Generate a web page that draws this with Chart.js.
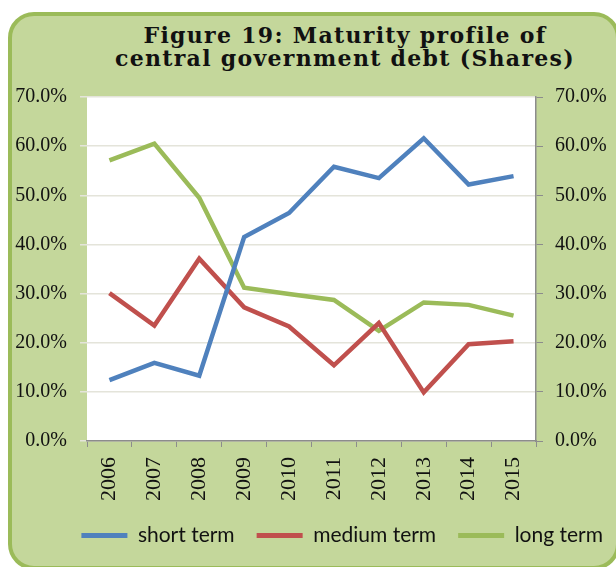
<!DOCTYPE html>
<html>
<head>
<meta charset="utf-8">
<script src="https://cdn.jsdelivr.net/npm/chart.js@4"></script>
<style>
  html, body { margin: 0; padding: 0; background: #fff; }
  body { width: 616px; height: 567px; position: relative; overflow: hidden; }
  .frame {
    position: absolute; left: 8px; top: 12px; width: 612px; height: 558px;
    box-sizing: border-box; border: 4px solid #9bbb59; border-radius: 26px;
    background: #c4d79b;
  }
  .title {
    position: absolute; left: 80px; top: 24px; width: 530px;
    font: bold 22px/23px 'DejaVu Serif', serif; color: #111; letter-spacing: 1.3px;
    text-align: center; white-space: nowrap;
  }
  canvas { position: absolute; left: 0; top: 0; }
</style>
</head>
<body>
<div class="frame"></div>
<div class="title" id="title"></div>
<canvas id="chart" width="616" height="567"></canvas>
<script>
// ── Data ──────────────────────────────────────────────────────────────────
const titleLines = ['Figure 19: Maturity profile of', 'central government debt (Shares)'];
const years = ['2006', '2007', '2008', '2009', '2010', '2011', '2012', '2013', '2014', '2015'];
const shortTerm = [12.4, 15.9, 13.3, 41.5, 46.4, 55.8, 53.5, 61.6, 52.2, 53.9];
const mediumTerm = [30.1, 23.5, 37.1, 27.2, 23.3, 15.4, 24.0, 9.9, 19.7, 20.3];
const longTerm = [57.1, 60.5, 49.5, 31.2, 29.9, 28.7, 22.4, 28.2, 27.7, 25.5];
const seriesNames = ['short term', 'medium term', 'long term'];
const yTicks = [0, 10, 20, 30, 40, 50, 60, 70];

document.getElementById('title').innerHTML = titleLines.join('<br>');

// white plot background
const plotBg = {
  id: 'plotBg',
  beforeDraw(chart) {
    const a = chart.chartArea, ctx = chart.ctx;
    ctx.save();
    ctx.fillStyle = '#ffffff';
    ctx.fillRect(a.left, a.top, a.right - a.left, a.bottom - a.top);
    ctx.restore();
  }
};

const tickFont = { family: "'Liberation Serif', serif", size: 20 };
const axisGray = '#8c8c8c';

function yAxis(pos) {
  const left = pos === 'left';
  return {
    position: pos,
    min: 0, max: 70,
    afterBuildTicks: s => { s.ticks = yTicks.map(v => ({ value: v })); },
    afterFit: s => { s.width = left ? 87 : 89; },
    ticks: { font: tickFont, color: '#111', padding: left ? 13 : 12, callback: v => v.toFixed(1) + '%' },
    grid: left
      ? { color: '#e4e4da', lineWidth: 1.5, tickLength: 7, drawTicks: true }
      : { drawOnChartArea: false, color: axisGray, tickLength: 7 },
    border: left ? { display: false } : { display: true, color: axisGray, width: 1.5 },
  };
}

const mk = (label, data, color) => ({
  label, data,
  borderColor: color, backgroundColor: color,
  borderWidth: 4.5, pointRadius: 0, tension: 0, yAxisID: 'y',
});

new Chart(document.getElementById('chart'), {
  type: 'line',
  data: {
    labels: years,
    datasets: [
      mk(seriesNames[0], shortTerm, '#4f81bd'),
      mk(seriesNames[1], mediumTerm, '#c0504d'),
      mk(seriesNames[2], longTerm, '#9bbb59'),
    ]
  },
  options: {
    responsive: false,
    animation: false,
    devicePixelRatio: 1,
    layout: { padding: { top: 97, left: 0, right: -9, bottom: 11 } },
    plugins: {
      title: { display: false },
      tooltip: { enabled: false },
      legend: {
        position: 'bottom', align: 'end',
        labels: {
          font: { family: "Lato, sans-serif", size: 21 },
          color: '#111',
          boxWidth: 46, boxHeight: 5, padding: 22,
          generateLabels(chart) {
            const items = Chart.defaults.plugins.legend.labels.generateLabels(chart);
            items.forEach(i => { i.lineWidth = 0; i.fillStyle = i.strokeStyle; });
            return items;
          }
        }
      }
    },
    scales: {
      x: {
        offset: true,
        afterFit: s => { s.height = 62; },
        ticks: { font: { family: "'Liberation Serif', serif", size: 22 }, color: '#111',
                 minRotation: 90, maxRotation: 90, autoSkip: false, padding: 10 },
        grid: { offset: true, drawOnChartArea: false, color: axisGray, tickLength: 6 },
        border: { display: true, color: axisGray, width: 1.5 },
      },
      y: yAxis('left'),
      y2: yAxis('right'),
    }
  },
  plugins: [plotBg]
});
</script>
</body>
</html>
